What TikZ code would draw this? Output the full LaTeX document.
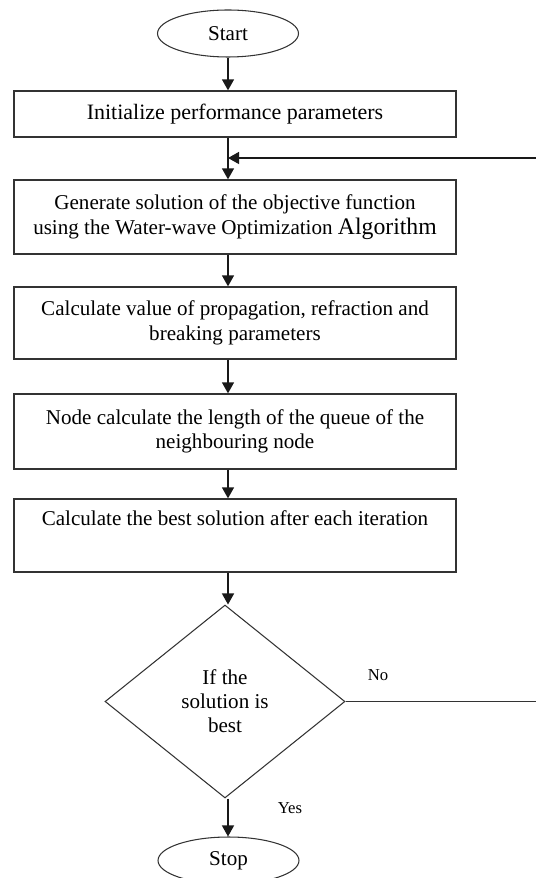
\documentclass[tikz,border=0pt]{standalone}
\usepackage{fontspec}
\setmainfont{Liberation Serif}
\usetikzlibrary{shapes.geometric}
\usetikzlibrary{arrows.meta}
\definecolor{ink}{gray}{0.2}

\begin{document}
\begin{tikzpicture}[x=0.02cm, y=-0.02cm, line width=0.75pt,
    box/.style={rectangle, draw=ink, minimum width=8.84cm, minimum height=#1, inner sep=0pt, align=center, font=\fontsize{12}{14}\selectfont, anchor=center},
    terminal/.style={ellipse, draw=ink, line width=0.6pt, minimum width=2.82cm, minimum height=0.94cm, inner sep=0pt, font=\fontsize{12}{14}\selectfont},
    decision/.style={diamond, draw=ink, line width=0.6pt, minimum width=4.8cm, minimum height=3.86cm, inner sep=0pt, align=center, font=\fontsize{12}{13.6}\selectfont},
    answer/.style={font=\fontsize{9.5}{11}\selectfont, inner sep=0pt},
    flow/.style={->, draw=black!90, >={Triangle[width=0.24cm, length=0.22cm]}}]
  \useasboundingbox (0,0) rectangle (536,878);

  \node[terminal] (start) at (228,33.5) {Start};
  \node[box=0.92cm, font=\fontsize{12.5}{14}\selectfont] (init) at (235,114) {Initialize performance parameters};
  \node[box=1.48cm] (generate) at (235,217) {Generate solution of the objective function\\
    using the Water-wave Optimization {\fontsize{13.5}{15}\selectfont Algorithm}};
  \node[box=1.44cm] (params) at (235,323) {Calculate value of propagation, refraction and\\
    breaking parameters};
  \node[box=1.5cm] (queue) at (235,431.5) {Node calculate the length of the queue of the\\
    neighbouring node};
  \node[box=1.46cm, text depth=0.68cm] (best) at (235,535.5) {Calculate the best solution after each iteration};
  \node[decision] (check) at (225,701.5) {If the\\ solution is\\ best};
  \node[terminal] (stop) at (228.5,860.5) {Stop};

  \node[answer] (no) at (378,675) {No};
  \node[answer] (yes) at (290,808) {Yes};

  \coordinate (loopin) at (536,158);
  \coordinate (noend) at (536,701.5);

  \draw[flow] (start.south) -- (start.south |- init.north);
  \draw[flow] (init.south -| start) -- (generate.north -| start);
  \draw[flow] (loopin) -- (loopin -| start);
  \draw[flow] (generate.south -| start) -- (params.north -| start);
  \draw[flow] (params.south -| start) -- (queue.north -| start);
  \draw[flow] (queue.south -| start) -- (best.north -| start);
  \draw[flow] (best.south -| start) -- (check.north -| start);
  \draw[flow] (check.south -| start) -- (stop.north -| start);
  \draw[draw=ink] (check.east) -- (noend);
\end{tikzpicture}
\end{document}
